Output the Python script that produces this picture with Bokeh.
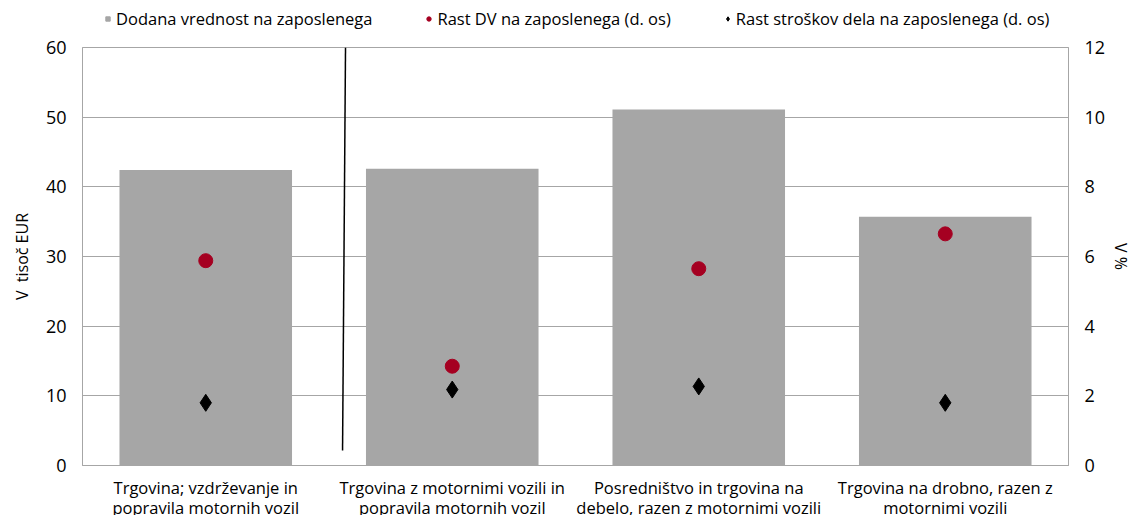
from bokeh.plotting import figure
from bokeh.layouts import column
from bokeh.models import (Range1d, LinearAxis, FixedTicker, Legend, LegendItem,
                          ColumnDataSource)
from bokeh.embed import file_html
from bokeh.resources import INLINE

categories = [
    "Trgovina; vzdrževanje in\npopravila motornih vozil",
    "Trgovina z motornimi vozili in\npopravila motornih vozil",
    "Posredništvo in trgovina na\ndebelo, razen z motornimi vozili",
    "Trgovina na drobno, razen z\nmotornimi vozili",
]
dv_per_employee = [42.4, 42.6, 51.1, 35.7]          # V tisoč EUR
dv_growth = [5.88, 2.85, 5.65, 6.65]                # V %
labour_cost_growth = [1.80, 2.18, 2.27, 1.80]       # V %
y_ticks_left = [0, 10, 20, 30, 40, 50, 60]
y_ticks_right = [0, 2, 4, 6, 8, 10, 12]
legend_labels = ["Dodana vrednost na zaposlenega",
                 "Rast DV na zaposlenega (d. os)",
                 "Rast stroškov dela na zaposlenega (d. os)"]

# separator line (annotation)
sep_x = [0.567, 0.555]
sep_y = [60, 2.15]

FONT = "Open Sans"
BAR_COLOR = "#A6A6A6"
RED = "#A50021"
xs = list(range(len(categories)))

# ---------------- main chart ----------------
p = figure(frame_width=986, frame_height=418, output_backend="svg",
           toolbar_location=None,
           x_range=Range1d(-0.5, 3.5), y_range=Range1d(0, 60),
           min_border_left=82, min_border_right=72, min_border_top=12,
           min_border_bottom=40)
p.extra_y_ranges = {"pct": Range1d(0, 12)}

p.outline_line_color = "#A6A6A6"
p.outline_line_width = 1
p.background_fill_color = "white"
p.border_fill_color = "white"

p.vbar(x=xs, top=dv_per_employee, width=0.70, fill_color=BAR_COLOR,
       line_color=None)
p.line(x=sep_x, y=sep_y, line_color="black", line_width=1.5)
p.scatter(x=xs, y=dv_growth, y_range_name="pct", marker="circle",
          size=14, fill_color=RED, line_color=RED)
p.scatter(x=xs, y=labour_cost_growth, y_range_name="pct",
          marker="diamond", size=17, fill_color="black", line_color="black")

p.xaxis.ticker = FixedTicker(ticks=xs)
p.xaxis.major_label_overrides = {i: c for i, c in enumerate(categories)}
p.xaxis.major_tick_line_color = None
p.xaxis.major_tick_out = 0
p.xaxis.minor_tick_line_color = None
p.xaxis.axis_line_color = "#A6A6A6"
p.xaxis.major_label_text_font = FONT
p.xaxis.major_label_text_font_size = "16.5px"
p.xaxis.major_label_text_line_height = 0.9
p.xaxis.major_label_text_color = "black"
p.xaxis.major_label_standoff = 10
p.xgrid.grid_line_color = None

p.yaxis.ticker = FixedTicker(ticks=y_ticks_left)
p.yaxis.axis_label = "V\u00a0 tisoč EUR"
p.yaxis.axis_label_text_font = FONT
p.yaxis.axis_label_text_font_style = "normal"
p.yaxis.axis_label_text_font_size = "16px"
p.yaxis.axis_label_text_color = "black"
p.yaxis.axis_label_standoff = 10
p.yaxis.major_label_text_font = FONT
p.yaxis.major_label_text_font_size = "18px"
p.yaxis.major_label_text_color = "black"
p.yaxis.major_label_standoff = 16
p.yaxis.major_tick_line_color = None
p.yaxis.major_tick_out = 0
p.yaxis.minor_tick_line_color = None
p.yaxis.axis_line_color = "#A6A6A6"
p.ygrid.ticker = FixedTicker(ticks=y_ticks_left)
p.ygrid.grid_line_color = "#A6A6A6"
p.ygrid.grid_line_width = 1

ax_r = LinearAxis(y_range_name="pct", ticker=FixedTicker(ticks=y_ticks_right),
                  axis_label="V %")
ax_r.axis_label_text_font = FONT
ax_r.axis_label_text_font_style = "normal"
ax_r.axis_label_text_font_size = "16px"
ax_r.axis_label_text_color = "black"
ax_r.axis_label_standoff = 2
ax_r.major_label_text_font = FONT
ax_r.major_label_text_font_size = "18px"
ax_r.major_label_text_color = "black"
ax_r.major_label_standoff = 16
ax_r.major_tick_line_color = None
ax_r.major_tick_out = 0
ax_r.minor_tick_line_color = None
ax_r.axis_line_color = "#A6A6A6"
p.add_layout(ax_r, "right")

# ---------------- legend strip ----------------
lg = figure(width=1140, height=35, output_backend="svg", toolbar_location=None,
            x_range=Range1d(0, 1), y_range=Range1d(0, 1), min_border=0,
            x_axis_type=None, y_axis_type=None)
lg.grid.grid_line_color = None
lg.outline_line_color = None
hidden = ColumnDataSource(data=dict(x=[-10.0], y=[-10.0]))
r_bar = lg.scatter(x="x", y="y", source=hidden, marker="square", size=14,
                   fill_color=BAR_COLOR, line_color=BAR_COLOR)
r_circ = lg.scatter(x="x", y="y", source=hidden, marker="circle", size=12,
                    fill_color=RED, line_color=RED)
r_diam = lg.scatter(x="x", y="y", source=hidden, marker="diamond", size=14,
                    fill_color="black", line_color="black")
legend = Legend(items=[
    LegendItem(label=legend_labels[0], renderers=[r_bar]),
    LegendItem(label=legend_labels[1], renderers=[r_circ]),
    LegendItem(label=legend_labels[2], renderers=[r_diam]),
], orientation="horizontal", location=(20, 5))
legend.border_line_color = None
legend.background_fill_alpha = 0
legend.label_text_font = FONT
legend.label_text_font_size = "16.5px"
legend.label_text_color = "black"
legend.glyph_width = 11
legend.glyph_height = 11
legend.label_standoff = 3
legend.spacing = 51
legend.padding = 2
legend.margin = 0
lg.add_layout(legend, "center")

layout = column(lg, p, spacing=0)
open("out.html", "w").write(file_html(layout, INLINE))
